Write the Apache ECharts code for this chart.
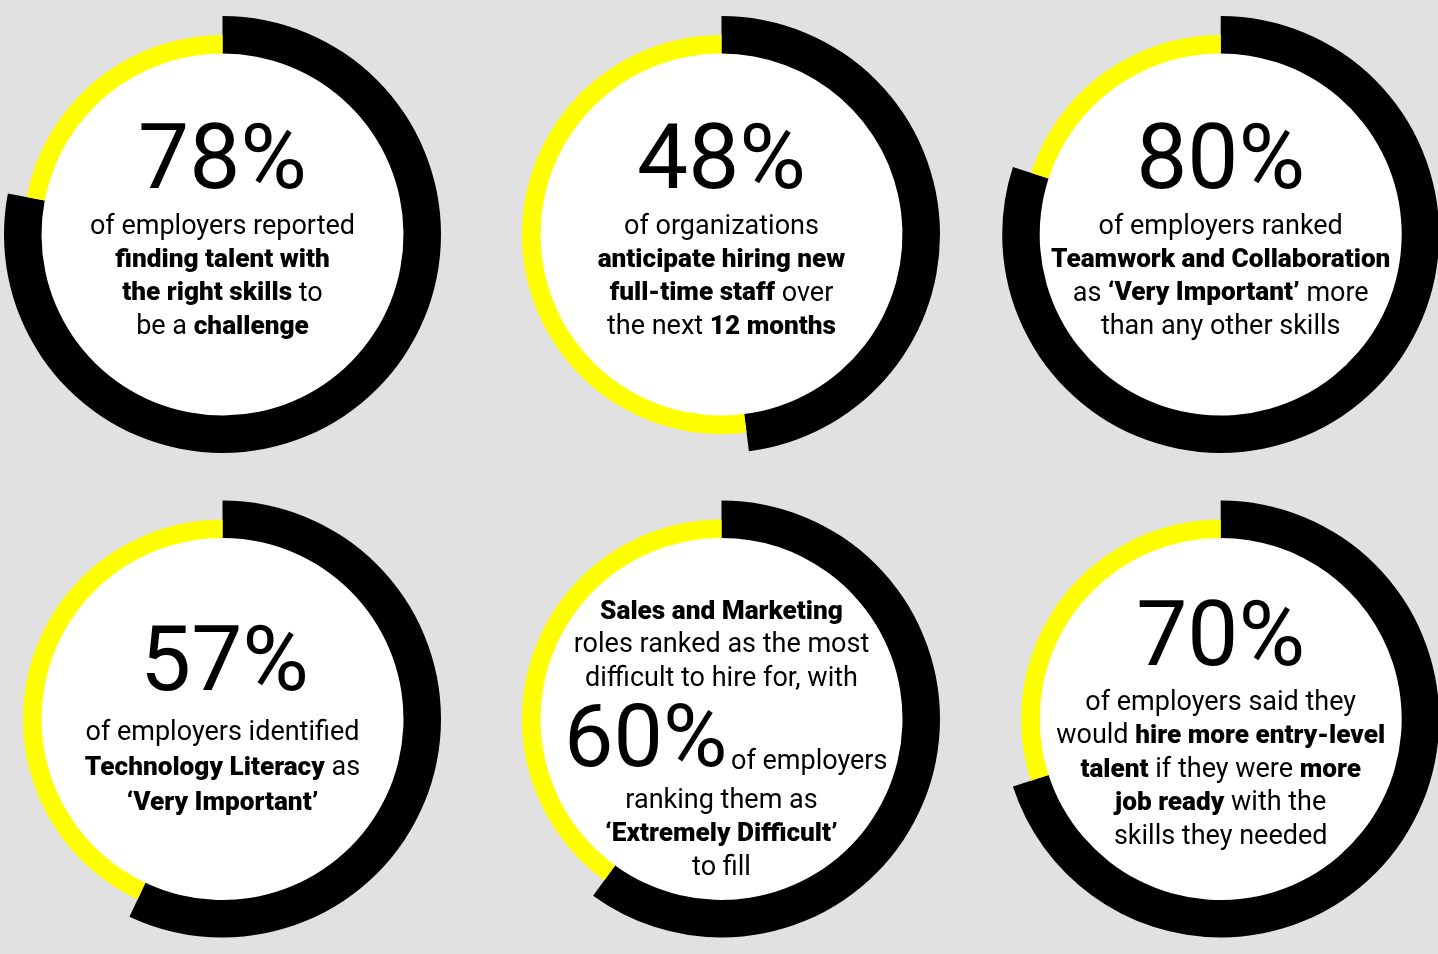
<!DOCTYPE html>
<html><head><meta charset="utf-8">
<script src="https://cdn.jsdelivr.net/npm/echarts@6/dist/echarts.min.js"></script>
<style>html,body{margin:0;padding:0;background:#e1e1e1;overflow:hidden}#c{width:1438px;height:954px}</style>
</head><body><div id="c"></div>
<script>
// ---- data ----
const percentages = [78, 48, 80, 57, 60, 70];
const bigLabels = ['78%', '48%', '80%', '57%', '60%', '70%'];
const caption1 = ['{n|of employers reported}', '{b|finding talent with}', '{b|the right skills}{n| to}', '{n|be a }{b|challenge}'];
const caption2 = ['{n|of organizations}', '{b|anticipate hiring new}', '{b|full-time staff}{n| over}', '{n|the next }{b|12 months}'];
const caption3 = ['{n|of employers ranked}', '{b|Teamwork and Collaboration}', '{n|as }{b|‘Very Important’}{n| more}', '{n|than any other skills}'];
const caption4 = ['{n|of employers identified}', '{b|Technology Literacy}{n| as}', '{b|‘Very Important’}'];
const caption5Top = ['{b|Sales and Marketing}', '{n|roles ranked as the most}', '{n|difficult to hire for, with}'];
const caption5Inline = 'of employers';
const caption5Bottom = ['{n|ranking them as}', '{b|‘Extremely Difficult’}', '{n|to fill}'];
const caption6 = ['{n|of employers said they}', '{n|would }{b|hire more entry-level}', '{b|talent}{n| if they were }{b|more}', '{b|job ready}{n| with the}', '{n|skills they needed}'];

// ---- layout ----
const colX = [222.5, 721.5, 1220.7];
const rowY = [234.5, 719];
const R_IN = 181, R_BLACK = 218.5, R_YELLOW = 199.5;
const FONT = 'Roboto';
const BODY = 27, BOLD = 26.2, BIG = 91;
const rich = {
  n: { fontFamily: FONT, fontSize: BODY, fontWeight: 400, fill: '#000' },
  b: { fontFamily: FONT, fontSize: BOLD, fontWeight: 900, fill: '#000' }
};

const series = [];
const elements = [];

function textEl(x, y, text, opts) {
  elements.push(Object.assign({
    type: 'text', x: x, y: y, silent: true, z: 100,
    style: Object.assign({ text: text, align: 'center', verticalAlign: 'middle', fill: '#000',
      fontFamily: FONT, fontSize: BODY, rich: rich }, opts || {})
  }));
}
function lines(x, y0, step, arr) {
  arr.forEach((t, k) => textEl(x, y0 + k * step, t));
}

percentages.forEach((p, i) => {
  const cx = colX[i % 3], cy = rowY[Math.floor(i / 3)];
  const base = { type: 'pie', silent: true, animation: false, center: [cx, cy], startAngle: 90, clockwise: true,
    label: { show: false }, labelLine: { show: false }, emphasis: { disabled: true } };
  series.push(Object.assign({}, base, { radius: [0, R_IN + 0.5], z: 1,
    data: [{ value: 1, itemStyle: { color: '#ffffff', borderWidth: 0 } }] }));
  series.push(Object.assign({}, base, { radius: [R_IN, R_BLACK], z: 2,
    data: [{ value: p, itemStyle: { color: '#000000', borderWidth: 0 } },
           { value: 100 - p, itemStyle: { color: 'rgba(0,0,0,0)', borderWidth: 0 } }] }));
  series.push(Object.assign({}, base, { radius: [R_IN, R_YELLOW], z: 2,
    data: [{ value: p, itemStyle: { color: 'rgba(0,0,0,0)', borderWidth: 0 } },
           { value: 100 - p, itemStyle: { color: '#ffff00', borderWidth: 0 } }] }));
});

const bigStyle = { fontSize: BIG, fontWeight: 400 };
// chart 1-3
[caption1, caption2, caption3].forEach((cap, i) => {
  textEl(colX[i], 165, bigLabels[i], bigStyle);
  lines(colX[i], 227, 33.4, cap);
});
// chart 4
textEl(colX[0] + 2, 667, bigLabels[3], bigStyle);
lines(colX[0], 733, 35, caption4);
// chart 5
lines(colX[1], 612, 33.5, caption5Top);
textEl(564, 744, bigLabels[4], { align: 'left', fontSize: 88, fontWeight: 400 });
textEl(731, 762, caption5Inline, { align: 'left', fontWeight: 400 });
lines(colX[1], 801, 33.5, caption5Bottom);
// chart 6
textEl(colX[2], 642, bigLabels[5], bigStyle);
lines(colX[2], 703, 33.5, caption6);

const chart = echarts.init(document.getElementById('c'), null, { renderer: 'canvas' });
chart.setOption({
  backgroundColor: '#e1e1e1',
  animation: false,
  series: series,
  graphic: { elements: elements }
});
</script>
</body></html>
